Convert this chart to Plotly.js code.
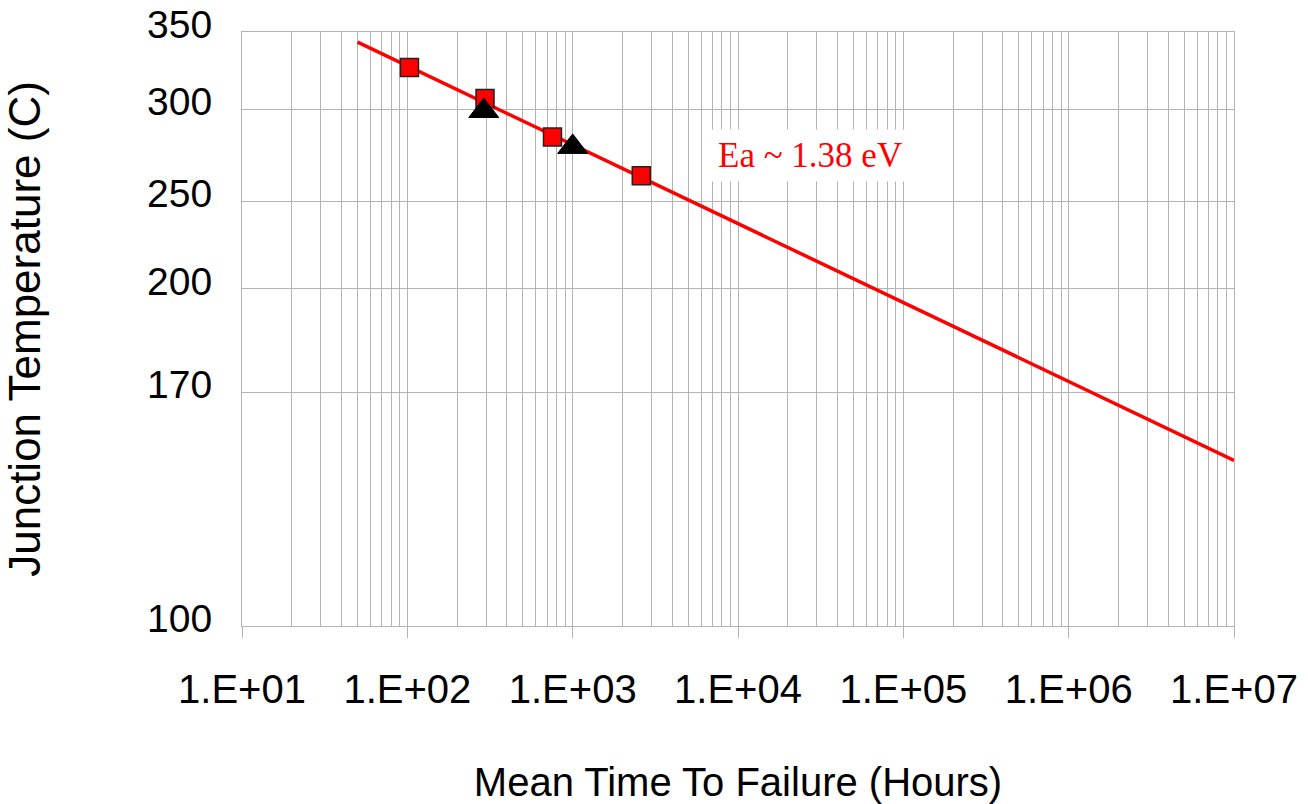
<!DOCTYPE html>
<html>
<head>
<meta charset="utf-8">
<script src="https://cdn.plot.ly/plotly-3.0.1.min.js"></script>
<style>html,body{margin:0;padding:0;background:#fff;}#chart{width:1308px;height:804px;}</style>
</head>
<body>
<div id="chart"></div>
<script>
// ---- data ----
const squareHours   = [103, 295, 755, 2600];
const squareTempC   = [326, 306.5, 284, 263];
const triangleHours = [290, 1000];
const triangleTempC = [299, 278.5];
const fitHours      = [50, 1e7];
const fitTempC      = [343, 147];

// y tick labels and the temperatures at which the grid lines sit
const yTickLabels = ['350', '300', '250', '200', '170', '100'];
const yGridTempC  = [350, 300, 250, 210, 170, 100];

// x tick labels
const xTickHours  = [1e1, 1e2, 1e3, 1e4, 1e5, 1e6, 1e7];
const xTickLabels = ['1.E+01', '1.E+02', '1.E+03', '1.E+04', '1.E+05', '1.E+06', '1.E+07'];

// Arrhenius axis: 1000 / T(K)
const invT = t => 1000 / (t + 273.15);

const minorVals = [];
for (let e = 1; e < 7; e++) for (let m = 2; m <= 9; m++) minorVals.push(m * Math.pow(10, e));

const GRID = '#b3b3b3';
const SANS = 'Liberation Sans, Arial, sans-serif';

const traces = [
  {
    x: fitHours, y: fitTempC.map(invT), type: 'scatter', mode: 'lines',
    line: {color: '#ff0000', width: 3.5}, hoverinfo: 'skip'
  },
  {
    x: squareHours, y: squareTempC.map(invT), type: 'scatter', mode: 'markers',
    marker: {symbol: 'square', size: 18, color: '#ff0000', line: {color: '#222222', width: 1.5}}
  },
  {
    x: triangleHours, y: triangleTempC.map(invT), type: 'scatter', mode: 'markers',
    marker: {symbol: 'triangle-up', size: 26, color: '#000000', line: {color: '#000000', width: 1}}
  }
];

const layout = {
  width: 1308, height: 804,
  margin: {l: 242, r: 74, t: 32, b: 178},
  paper_bgcolor: '#ffffff', plot_bgcolor: '#ffffff',
  showlegend: false,
  font: {family: SANS, color: '#000000'},
  xaxis: {
    type: 'log', range: [1, 7],
    tickvals: xTickHours, ticktext: xTickLabels,
    ticks: 'outside', ticklen: 11, tickcolor: GRID, tickwidth: 1,
    tickfont: {family: SANS, size: 40, color: '#000'},
    ticklabelstandoff: 17,
    showgrid: true, gridcolor: GRID, gridwidth: 1,
    minor: {tickvals: minorVals, showgrid: true, gridcolor: GRID, gridwidth: 1, ticks: ''},
    showline: true, linecolor: GRID, linewidth: 1, mirror: true,
    zeroline: false,
    title: {text: 'Mean Time To Failure (Hours)', font: {family: SANS, size: 40, color: '#000'}, standoff: 58}
  },
  yaxis: {
    range: [invT(100), invT(350)],
    tickvals: yGridTempC.map(invT), ticktext: yTickLabels,
    ticks: '', ticklabelstandoff: 21, ticklabelshift: 8,
    tickfont: {family: SANS, size: 39, color: '#000'},
    showgrid: true, gridcolor: GRID, gridwidth: 1,
    showline: true, linecolor: GRID, linewidth: 1, mirror: true,
    zeroline: false,
    title: {text: 'Junction Temperature (C)', font: {family: SANS, size: 44, color: '#000'}, standoff: 93}
  },
  annotations: [{
    xref: 'paper', yref: 'paper', x: 0.5725, y: 0.7925,
    xanchor: 'center', yanchor: 'middle',
    text: 'Ea ~ 1.38 eV', showarrow: false,
    font: {family: 'Liberation Serif, Times New Roman, serif', size: 35, color: '#ff0000'},
    bgcolor: '#ffffff', borderpad: 6
  }]
};

Plotly.newPlot('chart', traces, layout, {displayModeBar: false, staticPlot: true});
</script>
</body>
</html>
